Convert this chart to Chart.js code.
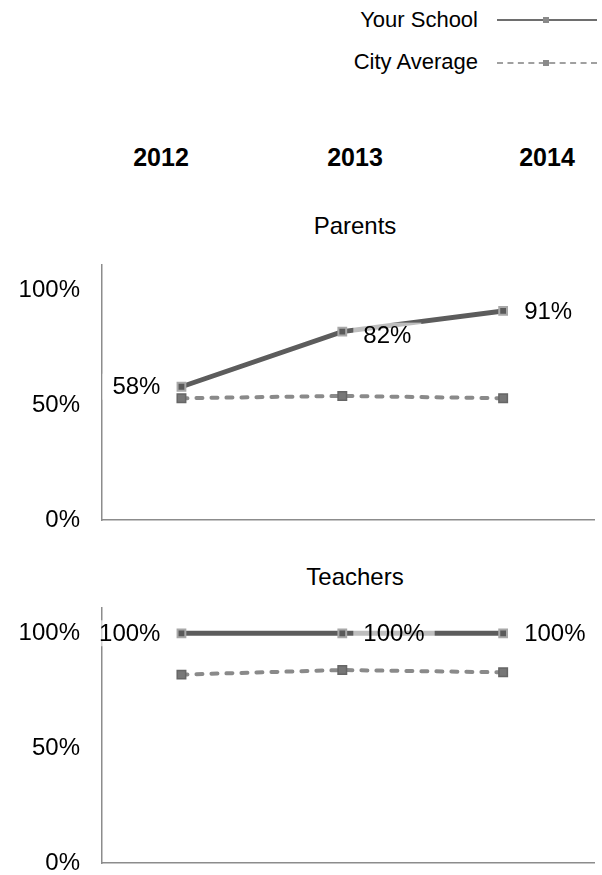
<!DOCTYPE html>
<html>
<head>
<meta charset="utf-8">
<script src="https://cdn.jsdelivr.net/npm/chart.js@4/dist/chart.umd.min.js"></script>
<style>
  body { margin: 0; background: #fff; font-family: "Liberation Sans", Arial, sans-serif; }
  #page { position: relative; width: 602px; height: 875px; overflow: hidden; }
  .txt { position: absolute; color: #000; white-space: nowrap; }
  .leg { font-size: 22px; text-align: right; width: 300px; left: 178px; }
  .year { font-size: 25px; font-weight: bold; width: 100px; text-align: center; top: 143px; }
  .ttl { font-size: 24px; width: 400px; left: 155px; text-align: center; }
  .swatch { position: absolute; left: 497px; width: 100px; }
  .mark { position: absolute; width: 6px; height: 6px; left: 543px; }
  .wrap { position: absolute; left: 0; width: 602px; height: 330px; }
</style>
</head>
<body>
<div id="page">
  <div class="txt leg" style="top:7px">Your School</div>
  <div class="swatch" style="top:19px;border-top:2px solid #6e6e6e"></div>
  <div class="mark" style="top:17px;background:#8a8a8a"></div>
  <div class="txt leg" style="top:49px">City Average</div>
  <div class="swatch" style="top:62px;border-top:2px dashed #a0a0a0"></div>
  <div class="mark" style="top:60px;background:#8a8a8a"></div>

  <div class="txt year" style="left:111px">2012</div>
  <div class="txt year" style="left:305px">2013</div>
  <div class="txt year" style="left:497px">2014</div>

  <div class="txt ttl" style="top:212px">Parents</div>
  <div class="txt ttl" style="top:563px">Teachers</div>

  <div class="wrap" style="top:200px"><canvas id="parents"></canvas></div>
  <div class="wrap" style="top:543px"><canvas id="teachers"></canvas></div>
</div>
<script>
const years = [2012, 2013, 2014];
const parentsSchool = [58, 82, 91];
const parentsCity = [53, 54, 53];
const teachersSchool = [100, 100, 100];
const teachersCity = [82, 84, 83];
const parentsLabelSide = ['left', 'right', 'right'];
const teachersLabelSide = ['left', 'right', 'right'];
const yTicks = [0, 50, 100];

// draws the % labels next to the Your School points
const pointLabels = {
  id: 'pointLabels',
  afterDatasetsDraw(chart, args, opts) {
    const ctx = chart.ctx;
    const meta = chart.getDatasetMeta(0);
    const vals = chart.data.datasets[0].data;
    ctx.save();
    ctx.font = '24px "Liberation Sans", Arial, sans-serif';
    ctx.textBaseline = 'middle';
    meta.data.forEach((pt, i) => {
      const txt = vals[i].y + '%';
      const w = ctx.measureText(txt).width;
      const side = opts.sides[i];
      const x = side === 'left' ? pt.x - 21 - w : pt.x + 21;
      const y = pt.y + (opts.dy ? opts.dy[i] : 0);
      ctx.fillStyle = 'rgba(255,255,255,0.6)';
      ctx.fillRect(x - 10, y - 13, w + 20, 26);
      ctx.fillStyle = '#000';
      ctx.fillText(txt, x, y + 1);
    });
    ctx.restore();
  }
};

function makePanel(id, school, city, sides, dy) {
  return new Chart(document.getElementById(id), {
    type: 'line',
    data: {
      datasets: [
        {
          label: 'Your School',
          data: years.map((yr, i) => ({ x: yr, y: school[i] })),
          borderColor: '#5c5c5c',
          borderWidth: 5,
          pointStyle: 'rect',
          pointRadius: 5.5,
          pointBorderWidth: 2,
          pointBackgroundColor: '#5a5a5a',
          pointBorderColor: '#a8a8a8'
        },
        {
          label: 'City Average',
          data: years.map((yr, i) => ({ x: yr, y: city[i] })),
          borderColor: '#8a8a8a',
          borderWidth: 4,
          borderDash: [6, 9],
          borderCapStyle: 'round',
          pointStyle: 'rect',
          pointRadius: 6,
          pointBorderWidth: 1.5,
          pointBackgroundColor: '#777',
          pointBorderColor: '#666'
        }
      ]
    },
    options: {
      responsive: true,
      maintainAspectRatio: false,
      animation: false,
      layout: { padding: { top: 65, right: 4, left: 0, bottom: 0 } },
      plugins: {
        legend: { display: false },
        tooltip: { enabled: false },
        pointLabels: { sides: sides, dy: dy }
      },
      scales: {
        x: {
          type: 'linear',
          min: 2011.506,
          max: 2014.568,
          ticks: { display: false },
          grid: { display: false },
          border: { display: true, color: '#8c8c8c', width: 1.5 },
          afterFit(scale) { scale.height = 10; }
        },
        y: {
          min: 0,
          max: 111,
          afterBuildTicks(scale) { scale.ticks = yTicks.map(v => ({ value: v })); },
          ticks: {
            padding: 22,
            color: '#000',
            font: { family: '"Liberation Sans", Arial, sans-serif', size: 24 },
            callback: v => v + '%'
          },
          grid: { display: false, drawTicks: false },
          border: { display: true, color: '#8c8c8c', width: 1.5 },
          afterFit(scale) {
            scale.width = 102;
            scale.paddingTop = 0;
            scale.paddingBottom = 0;
          }
        }
      }
    },
    plugins: [pointLabels]
  });
}

makePanel('parents', parentsSchool, parentsCity, parentsLabelSide, [0, 4, 0]);
makePanel('teachers', teachersSchool, teachersCity, teachersLabelSide, [0, 0, 0]);
</script>
</body>
</html>
